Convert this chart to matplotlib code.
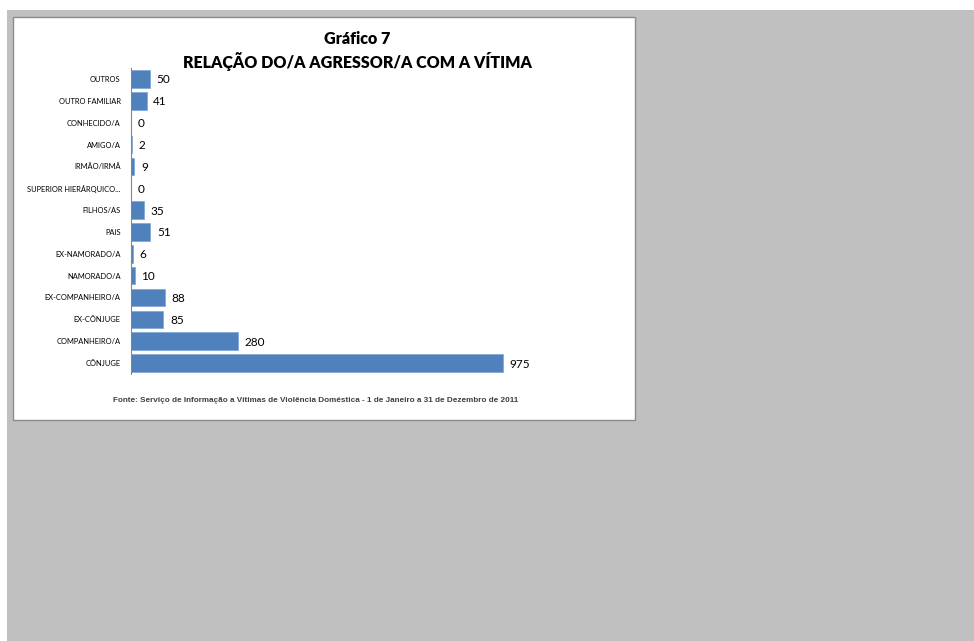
#!/usr/bin/env python3
"""Horizontal bar chart: relation between aggressor and victim"""

from matplotlib import patches, pyplot as plt

categories = ['CÔNJUGE', 'COMPANHEIRO/A', 'EX-CÔNJUGE', 'EX-COMPANHEIRO/A',
              'NAMORADO/A', 'EX-NAMORADO/A', 'PAIS', 'FILHOS/AS',
              'SUPERIOR HIERÁRQUICO...', 'IRMÃO/IRMÃ', 'AMIGO/A',
              'CONHECIDO/A', 'OUTRO FAMILIAR', 'OUTROS']
values = [975, 280, 85, 88, 10, 6, 51, 35, 0, 9, 2, 0, 41, 50]

TITLE = 'Gráfico 7\nRELAÇÃO DO/A AGRESSOR/A COM A VÍTIMA'
SOURCE = ('Fonte: Serviço de Informação a Vítimas de Violência Doméstica - '
          '1 de Janeiro a 31 de Dezembro de 2011')

BAR_COLOR = '#4F81BD'
BG_GRAY = '#C0C0C0'
W, H = 974, 641

fig = plt.figure(figsize=(W / 100, H / 100), dpi=100)
fig.patch.set_facecolor(BG_GRAY)

# white margin strips along top and left edge
fig.add_artist(patches.Rectangle((0, 1 - 10 / H), 1, 10 / H, transform=fig.transFigure,
                                 facecolor='white', edgecolor='none', zorder=-2))
fig.add_artist(patches.Rectangle((0, 0), 7 / W, 1, transform=fig.transFigure,
                                 facecolor='white', edgecolor='none', zorder=-2))

# chart box
fig.add_artist(patches.Rectangle((13 / W, 1 - 420 / H), 622 / W, 403 / H,
                                 transform=fig.transFigure, facecolor='white',
                                 edgecolor='#8C8C8C', linewidth=1.0, zorder=-1))

ax = fig.add_axes([131 / W, 1 - 374 / H, 458 / W, 306 / H])
ax.set_zorder(2)
ax.set_facecolor('none')

y = list(range(len(categories)))
ax.barh(y, values, height=0.8, color=BAR_COLOR, edgecolor='#7FA3D3', linewidth=0.5)
ax.set_xlim(0, 1200)
ax.set_ylim(-0.5, len(categories) - 0.5)

for yi, v in zip(y, values):
    ax.text(v + 17, yi, str(v), va='center_baseline', ha='left', fontsize=8.5,
            family='Lato', color='black')

ax.set_yticks(y)
ax.set_yticklabels(categories, fontsize=5.4, family='Lato')
ax.tick_params(axis='y', length=0, pad=7.5)
ax.set_xticks([])
for side in ['top', 'right', 'bottom']:
    ax.spines[side].set_visible(False)
ax.spines['left'].set_color('#868686')
ax.spines['left'].set_linewidth(0.8)

fig.text(357 / W, 1 - 51 / H, TITLE, ha='center', va='center', fontsize=11.5,
         fontweight='heavy', family='Lato', linespacing=1.35)
fig.text(316 / W, 1 - 401 / H, SOURCE, ha='center', va='center', fontsize=5.9,
         fontweight='bold', family='Liberation Sans', color='#404040')

plt.savefig('out.png', dpi=100, facecolor=fig.get_facecolor())
